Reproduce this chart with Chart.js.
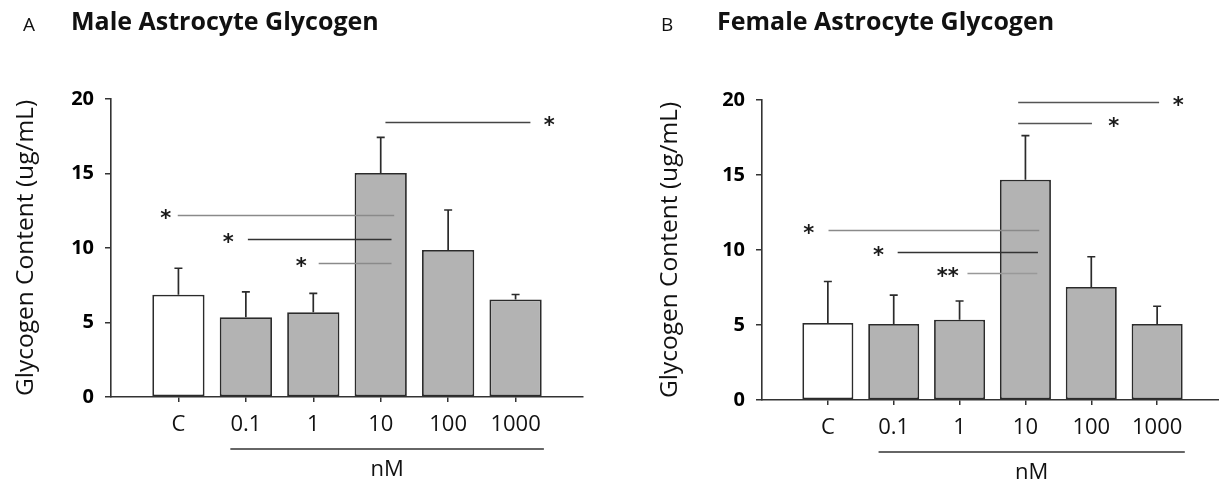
<!DOCTYPE html>
<html>
<head>
<meta charset="utf-8">
<script src="https://cdn.jsdelivr.net/npm/chart.js@4.4.1/dist/chart.umd.min.js"></script>
<style>
  body { margin: 0; width: 1219px; height: 481px; overflow: hidden; background: #fff; position: relative; font-family: 'Open Sans', sans-serif; color: #111; }
  .panel { position: absolute; top: 0; }
  .letter { position: absolute; font-size: 19px; }
  .title { position: absolute; font-size: 25px; font-weight: 700; }
</style>
</head>
<body>
<div class="panel" style="left:0px"><canvas id="chartA" width="600" height="481"></canvas></div>
<div class="panel" style="left:619px"><canvas id="chartB" width="620" height="481"></canvas></div>
<div class="letter" style="left:23px;top:11px">A</div>
<div class="title" style="left:71px;top:3px">Male Astrocyte Glycogen</div>
<div class="letter" style="left:661px;top:11px">B</div>
<div class="title" style="left:717px;top:3px">Female Astrocyte Glycogen</div>
<script>
// empty first/last slots give the gap left of C and right of 1000
const categories = ['', 'C', '0.1', '1', '10', '100', '1000', ''];
const yTicks = [0, 5, 10, 15, 20];

const maleMeans = [null, 6.87, 5.36, 5.69, 15.03, 9.87, 6.55, null];
const maleSem = [null, 1.77, 1.69, 1.26, 2.40, 2.68, 0.33, null];
const femaleMeans = [null, 5.13, 5.07, 5.35, 14.68, 7.54, 5.07, null];
const femaleSem = [null, 2.77, 1.92, 1.25, 2.94, 2.01, 1.18, null];

// significance lines: from / to (category index), height, label, label position
const maleSigFrom = [4.07, 0.99, 2.03, 3.08];
const maleSigTo = [6.22, 4.20, 4.16, 4.16];
const maleSigY = [18.43, 12.2, 10.6, 9.0];
const maleSigLabel = ['*', '*', '*', '*'];
const maleSigLabelX = [6.5, 0.81, 1.74, 2.82];

const femaleSigFrom = [3.89, 3.89, 1.01, 2.06, 3.12];
const femaleSigTo = [6.03, 5.01, 4.21, 4.19, 4.18];
const femaleSigY = [19.89, 18.49, 11.33, 9.89, 8.49];
const femaleSigLabel = ['*', '*', '*', '*', '**'];
const femaleSigLabelX = [6.32, 5.34, 0.71, 1.77, 2.82];

const concRange = [1.77, 6.42];   // span of the nM underline
const unitLabel = 'nM';

const maleLineColors = ['#444', '#8a8a8a', '#333', '#8a8a8a'];
const femaleLineColors = ['#555', '#555', '#8a8a8a', '#333', '#999'];

function extras(means, sem, sigFrom, sigTo, sigY, sigLabel, sigLabelX, lineColors) {
  return {
    id: 'extras',
    afterDatasetsDraw(chart) {
      const ctx = chart.ctx;
      const x = chart.scales.x;
      const y = chart.scales.y;
      const meta = chart.getDatasetMeta(0);
      ctx.save();

      ctx.strokeStyle = '#2b2b2b';
      ctx.lineWidth = 1.7;
      meta.data.forEach((bar, i) => {
        if (means[i] == null) return;
        const base = y.getPixelForValue(means[i]);
        const top = y.getPixelForValue(means[i] + sem[i]);
        ctx.beginPath();
        ctx.moveTo(bar.x, base);
        ctx.lineTo(bar.x, top);
        ctx.moveTo(bar.x - 4, top);
        ctx.lineTo(bar.x + 4, top);
        ctx.stroke();
      });

      ctx.font = 'bold 21px "DejaVu Sans"';
      ctx.fillStyle = '#1a1a1a';
      ctx.textAlign = 'center';
      ctx.textBaseline = 'middle';
      sigY.forEach((v, i) => {
        const py = Math.round(y.getPixelForValue(v)) + 0.5;
        ctx.strokeStyle = lineColors[i];
        ctx.lineWidth = 1.7;
        ctx.beginPath();
        ctx.moveTo(x.getPixelForValue(sigFrom[i]), py);
        ctx.lineTo(x.getPixelForValue(sigTo[i]), py);
        ctx.stroke();
        ctx.fillText(sigLabel[i], x.getPixelForValue(sigLabelX[i]), py + 4);
      });

      const axisY = y.getPixelForValue(0);
      ctx.strokeStyle = '#333';
      ctx.lineWidth = 1.5;
      ctx.beginPath();
      ctx.moveTo(x.getPixelForValue(concRange[0]), axisY + 52);
      ctx.lineTo(x.getPixelForValue(concRange[1]), axisY + 52);
      ctx.stroke();
      ctx.font = '22px "Open Sans"';
      ctx.fillStyle = '#111';
      ctx.fillText(unitLabel, x.getPixelForValue((concRange[0] + concRange[1]) / 2), axisY + 73);
      ctx.restore();
    }
  };
}

function makeChart(id, means, plugin, yWidth, xHeight, padTop, padRight, titlePad) {
  return new Chart(document.getElementById(id), {
    type: 'bar',
    data: {
      labels: categories,
      datasets: [{
        data: means,
        backgroundColor: means.map((v, i) => i === 1 ? '#ffffff' : '#b3b3b3'),
        borderColor: '#2b2b2b',
        borderWidth: 1.8,
        borderSkipped: false,
        categoryPercentage: 1,
        barPercentage: 0.775
      }]
    },
    options: {
      responsive: false,
      animation: false,
      layout: { padding: { top: padTop, right: padRight, left: 0, bottom: 0 } },
      plugins: { legend: { display: false }, tooltip: { enabled: false } },
      scales: {
        x: {
          type: 'category',
          offset: false,
          afterFit: s => { s.height = xHeight; },
          grid: {
            offset: false,
            drawOnChartArea: false,
            tickLength: 5,
            lineWidth: 1.5,
            tickColor: c => (c.index === 0 || c.index === categories.length - 1) ? 'rgba(0,0,0,0)' : '#333'
          },
          border: { color: '#333', width: 1.6 },
          ticks: {
            autoSkip: false,
            maxRotation: 0,
            padding: 10,
            color: '#111',
            font: { family: 'Open Sans', size: 22 }
          }
        },
        y: {
          min: 0,
          max: 20,
          afterFit: s => { s.width = yWidth; },
          afterBuildTicks: s => { s.ticks = yTicks.map(v => ({ value: v })); },
          grid: { drawOnChartArea: false, tickLength: 6, lineWidth: 1.5, color: '#333' },
          border: { color: '#333', width: 1.6 },
          ticks: {
            padding: 11,
            color: '#000',
            font: { family: 'Open Sans', size: 20, weight: 'bold' }
          },
          title: {
            display: true,
            text: 'Glycogen Content (ug/mL)',
            color: '#111',
            padding: { top: titlePad, bottom: 0 },
            font: { family: 'Open Sans', size: 24.5 }
          }
        }
      }
    },
    plugins: [plugin]
  });
}

makeChart('chartA', maleMeans,
  extras(maleMeans, maleSem, maleSigFrom, maleSigTo, maleSigY, maleSigLabel, maleSigLabelX, maleLineColors),
  111, 84, 99, 17, 11);
makeChart('chartB', femaleMeans,
  extras(femaleMeans, femaleSem, femaleSigFrom, femaleSigTo, femaleSigY, femaleSigLabel, femaleSigLabelX, femaleLineColors),
  143, 81, 100, 16, 36);
</script>
</body>
</html>
